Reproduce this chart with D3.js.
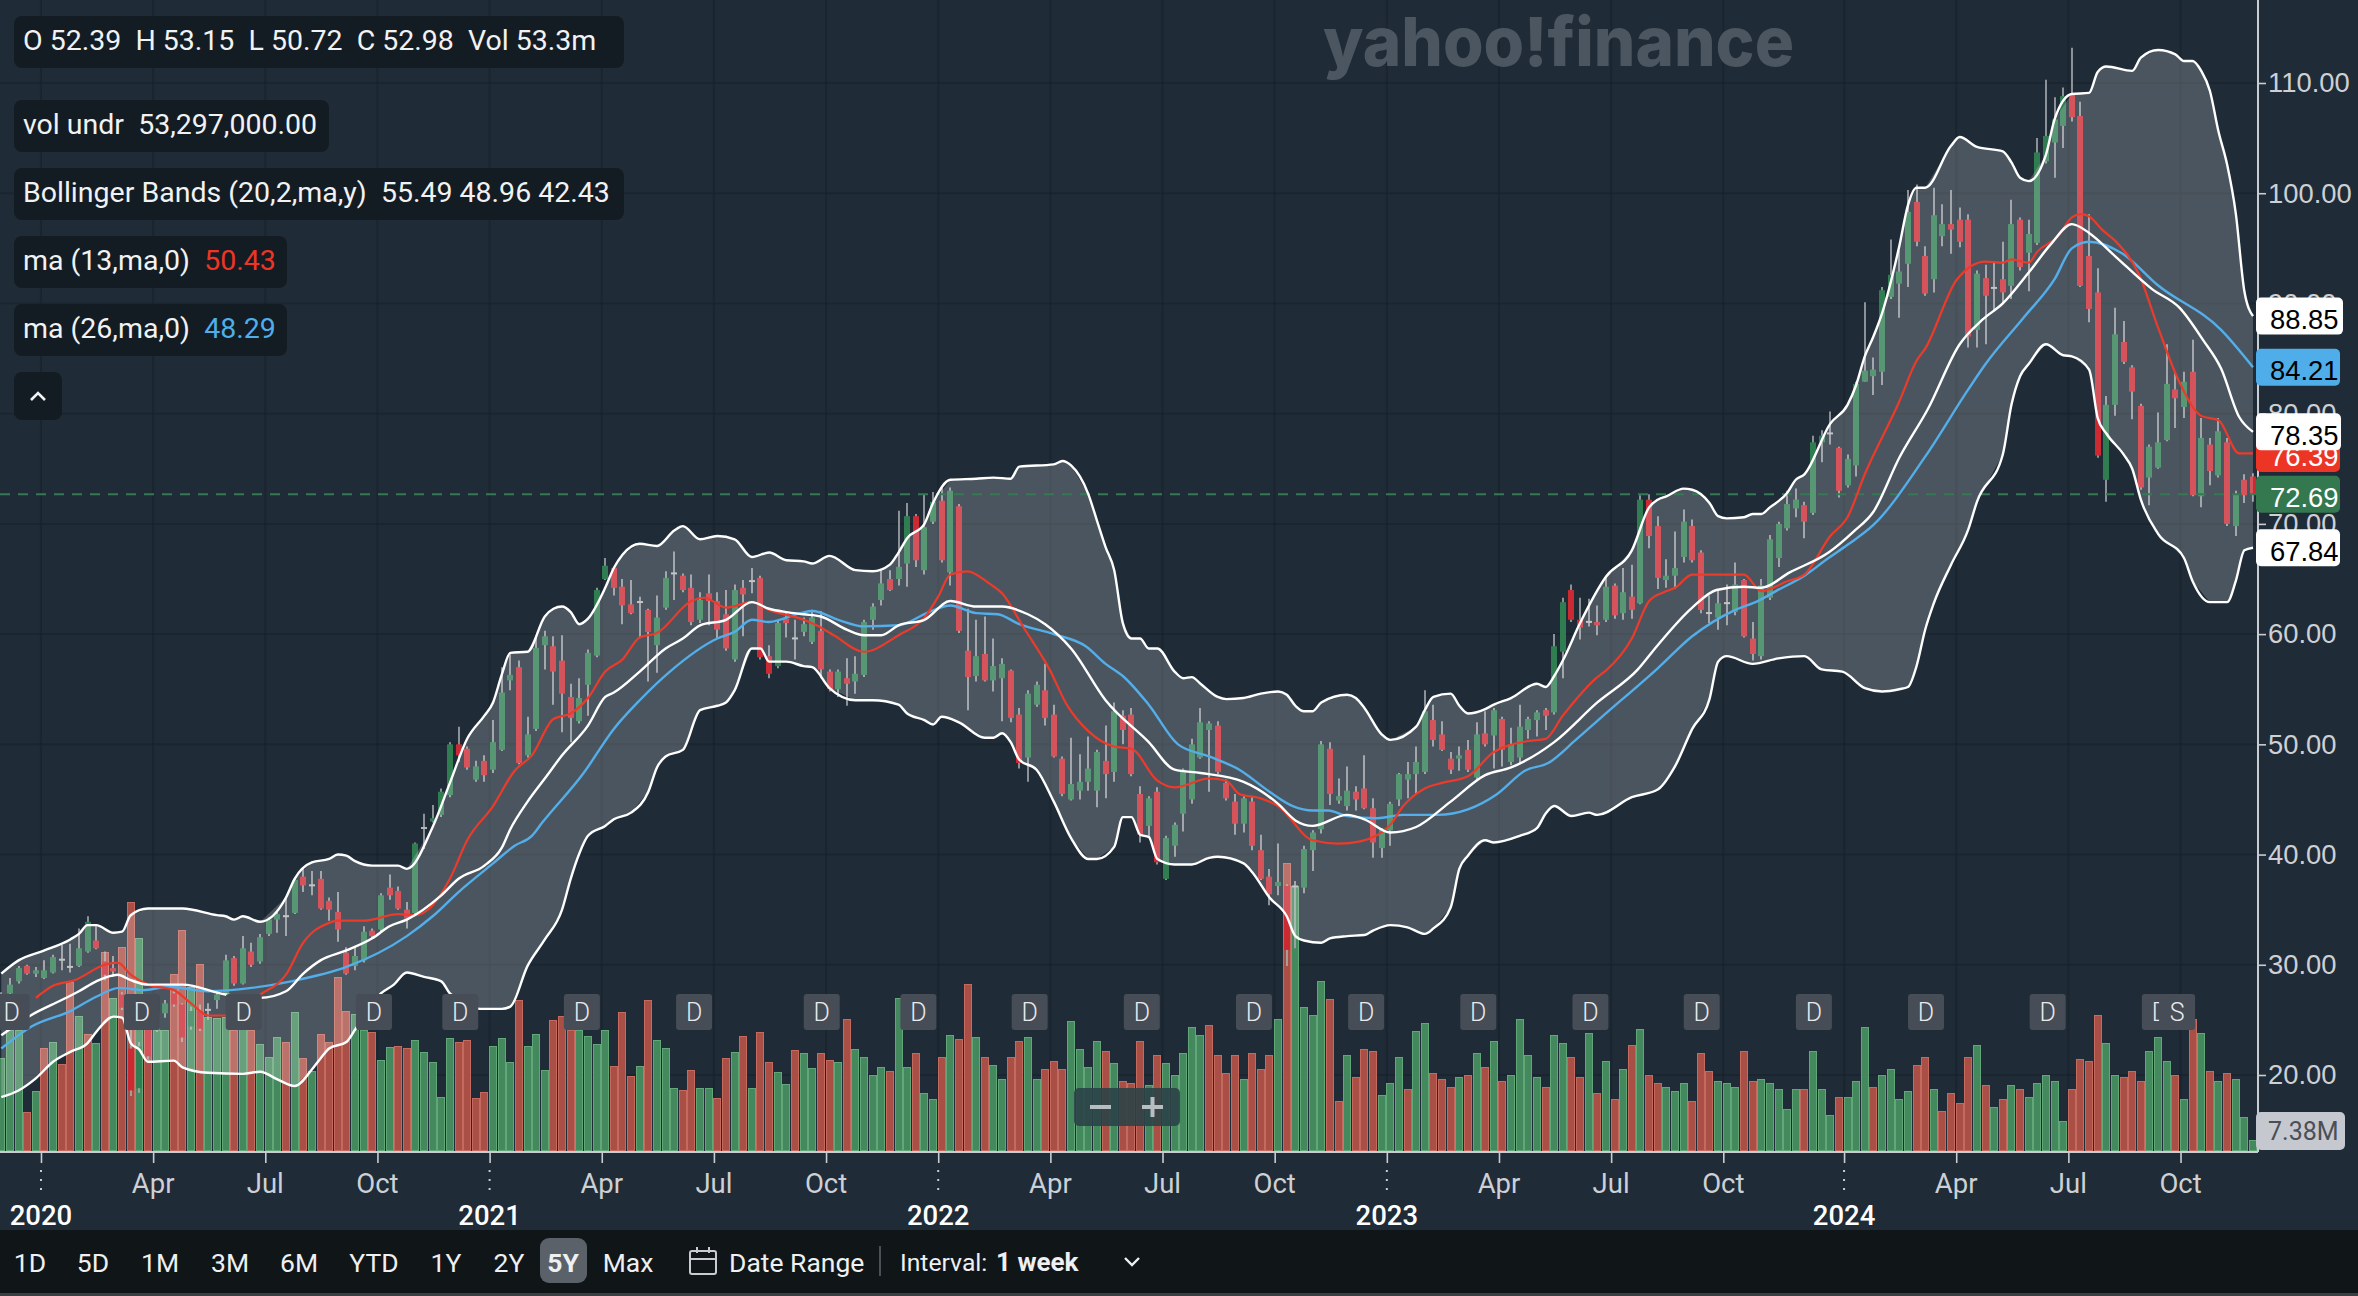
<!DOCTYPE html>
<html>
<head>
<meta charset="utf-8">
<script src="https://cdnjs.cloudflare.com/ajax/libs/d3/7.8.5/d3.min.js"></script>
<style>
  html, body { margin: 0; padding: 0; background: #1f2b37; }
  svg { display: block; }
  text { font-family: Roboto, sans-serif; white-space: pre; }
</style>
</head>
<body>
<div id="chart"></div>
<script>
// weekly candles, 10 per row
const opens = [
  26.6,27.4,28.5,29.9,29.2,28.8,29.3,30.55,29.9,29.9,
  31.2,32.2,30.3,29.7,27.3,22.4,18.8,24.1,24.1,25.6,
  27.4,26.4,24.4,25.8,26,26.8,27.4,30.6,28.3,31.2,
  30.3,32.8,34.1,34.5,34.7,38,37.3,37.8,35.8,34.8,
  31.1,29.9,30.4,33.1,33.2,37,36.7,35,34.7,42.5,
  43,43.6,45.4,50,49.6,46.8,48.5,47.7,49.5,55.8,
  57,49,51.4,59,58.9,57.6,54.3,52.1,55.4,58.05,
  65,66,64.3,62.7,63,62.2,59,62.4,65.6,65.3,
  64.2,61.3,63.7,63,61.8,57.7,64.2,64.9,65.1,58,
  57.1,61.4,59.7,60.2,59.3,60.3,56.6,55,56,55.7,
  56.3,61.3,63.1,65,65,66.4,70.7,65.8,70.2,72.1,
  65.6,71.6,58.5,56.2,58.2,55.8,56,56.7,52.7,48.8,
  53.6,54.9,52.7,48.7,45,45.8,46.6,45.8,48.5,47.5,
  52.6,52.7,45.5,42.6,45.7,37.8,40.8,43.7,45,48.8,
  51.3,51.7,46.5,44.8,42.8,44.8,40.4,38,37.15,37.15,
  37.2,37,40.4,42.3,49.6,44.9,44.4,45.7,46,44.2,
  40.6,42.2,45,46.8,47.3,47.5,52.2,50.9,48.7,48.7,
  49.5,47,51,50.8,52.3,48.4,48.8,51.3,52.2,53.1,
  52.9,58.4,64,61.3,61.2,61.1,61.3,64.4,61.9,63.4,
  62.8,72.2,69.8,64.9,65.3,67,69.8,67.4,62,61.5,
  62.9,62,64.9,59.6,58,63.3,66.9,69.6,71.4,71.7,
  71,77.4,78.3,76.9,73.5,75.3,82.9,83.4,83.8,90.6,
  91.8,93.6,99.2,94.3,92.2,96.1,97.2,97.6,97.6,87.6,
  92.3,91.5,92.2,91.6,97.6,94.6,95.5,102.9,104.6,106.1,
  109,107,94.3,91,74,80.8,86.5,84.2,80.7,74.2,
  75.1,77.6,82.2,80.6,83.8,72.5,77.2,74.4,77.4,69.8,
  74,74.3
];
const highs = [
  27.5,28.8,29.9,30,29.8,30.4,30.9,31.8,31.9,33.3,
  34.4,33.5,31.2,30.8,27.5,24.1,23,24.4,25.9,26.8,
  27.7,26.5,26.2,26.4,26.5,27.7,30.9,30.8,32.6,32,
  32.8,34.3,34.9,36.1,37.9,38.7,38.5,38.5,36.1,36.6,
  31.6,31.7,33.5,33.3,36.5,38.2,37.1,35.7,41.1,43.7,
  44.5,46,50.2,51.6,49.8,48.5,49,52.2,57,58.3,
  57.6,52.5,59.7,60.3,59.8,59.9,55.5,56,58.6,64.2,
  66.9,66.1,65,64.9,63.4,62.3,63.5,65.7,67.5,65.5,
  65.4,63.8,65.4,63.8,64,64.5,64.9,66,65.3,59,
  61.2,62,61.3,61.5,62.2,62.1,56.8,56.8,57.8,58,
  61.3,62.8,65.8,65.8,71.2,71.9,70.9,72.7,72.9,73.3,
  73.3,71.8,62.3,61.3,61.6,59.6,57.8,56.8,53.3,54.9,
  55.7,57.3,53.6,48.9,50.6,49.1,50.7,49.5,51.7,53.8,
  53.1,53.3,46.2,45.3,46.1,41.7,42.9,47.8,50.5,53.3,
  52.1,52.1,46.8,45.5,45.3,45.3,41.8,38.7,41,37.3,
  37.6,40.8,42.2,50.3,50.2,46.9,48,46.2,49,45.1,
  42.4,44.8,47.4,48.4,49.8,54.9,53.6,52.1,49.3,49.8,
  50.4,52,53,53.3,52.5,51.5,53.6,52.5,53.1,53.3,
  60,63.3,64.5,63.3,63.2,62.6,65.2,64.6,66,66.3,
  72.6,72.7,70.7,66.8,69.3,71.3,70.4,67.6,63.5,64.1,
  64.5,66.5,65,61.1,65,69,70.2,73,73.2,72,
  78,78.5,80.2,77,76.3,82.9,90.1,85.1,91.5,95.8,
  94.8,100.3,100.8,95.2,100.5,99,100.3,98.7,98.1,93,
  93.5,93.7,95.6,99.4,97.8,97.6,105,110.3,108.7,109.6,
  113.2,108.3,98.1,93.2,81.6,89.6,88.4,84.4,80.9,77.2,
  80.1,86.3,83.7,83.8,86.7,79.6,77.8,79.6,77.8,73,
  74.5,74.6
];
const lows = [
  26.2,27.2,28.3,29.1,28.9,28.7,29.2,29.5,29.3,29.8,
  31.1,31.4,28.6,28.9,25.9,18.1,18.4,21.4,23.9,25.2,
  26.2,23,24.1,24,25,26,27.2,28.1,28.2,29.8,
  30.1,32.6,32.9,32.6,34.6,36.6,36.3,35,34,32.1,
  29.1,29.5,30.2,32.4,33,35.9,35,33.3,34.5,40.5,
  42.9,43.4,45.2,48.4,47.7,46.6,46.6,47.4,49.4,54.9,
  48.2,48.8,51.2,56.8,53.6,51.1,50.2,51.9,52.6,57.9,
  64.9,63.5,60.9,61.8,59.7,55.7,56.5,62.2,63.1,63.8,
  60.8,61,60.8,59.6,58.5,57.5,59.8,63.7,57.7,56,
  56.9,59.7,57.7,59.8,59.1,56,54.8,54.3,53.5,54.6,
  56.1,60.4,62.6,63.9,64.4,64.3,66.1,65.4,70,66.5,
  64.4,60.1,53.1,55.7,55.7,54.8,52.1,52,47.8,46.6,
  53.4,51.7,48.8,45.3,44.9,45,45.8,44.3,45.1,46.6,
  50,47.1,41.1,41.7,39.1,37.7,39.8,42.1,44.6,48.7,
  45.7,47.3,44.9,41.8,42,40.4,37.7,35.4,36.3,29.9,
  31.5,36.5,38.5,41.9,44.5,44.6,44,44,44.1,39.7,
  39.7,40.8,44.4,45.1,45.5,47.3,49.8,49.4,47.3,47.6,
  47.5,46.8,49.8,47.8,48,48.1,48.3,50.5,50.7,51.3,
  52.7,56,61.1,59.5,60.7,59.9,61.1,61.4,61.3,61.4,
  62.7,67.8,64.1,64.2,64.1,66.5,66.5,61.9,61,60.4,
  60.8,61.7,59.7,57.6,57.7,63.1,66.1,69.4,70.6,68.7,
  70.8,75.6,77.2,72.4,73.3,74.3,82.9,81.7,82.6,90.4,
  88.7,91.5,95.2,90.7,91,95.2,94.5,95.1,86,86,
  86.3,89.3,90,90.4,93,91.1,95.3,102.7,101.4,104.1,
  106.5,91.5,88.3,76,72,79.8,84.5,79.5,73.1,71.7,
  75,77.5,78.7,79.6,72.5,71.5,73.5,74.2,69.8,68.9,
  71.9,72
];
const closes = [
  27,28.2,29.7,29.2,29.5,29.5,30.7,30.55,29.9,31.5,
  33.9,31.5,29.1,29.4,26.1,18.6,22.6,21.7,25.6,26.5,
  26.4,23.4,25.8,24.2,26,27.3,30.4,28.3,31.5,30,
  32.5,34.1,34.6,34.5,37.7,37.2,37.3,35.1,35,33.2,
  29.2,30.8,33,32.6,36.3,36.3,35.1,34.2,41,42.5,
  43.3,45.7,50,49,47.9,48,47.2,50.2,54.7,56.3,
  48.3,50.9,58.75,59.8,56.6,54.6,52.4,54.2,58.3,64,
  66.2,64.2,62.6,61.9,63,60.2,61.5,65.1,65.6,64,
  61.1,63.1,63,60.4,58.7,64,63.6,64.9,57.9,56.4,
  61,61,59.7,60.9,61.5,56.8,55,56.6,55.5,56.4,
  61.1,62.5,64.6,64,66.1,70.7,66.7,69.7,72,66.7,
  73,60.3,56.1,58,55.8,57.1,57.3,52.4,48.3,54.6,
  55.4,52.4,48.9,45.5,46.4,46.6,47.8,49.3,47.3,53,
  51.3,47.3,41.8,45.1,39.3,41.5,42.7,47.7,50,52,
  51.9,47.5,45.1,42.8,45.1,40.8,37.8,36.4,37.5,31.35,
  37.2,40.5,42,50,45.5,45.3,45.8,45,44.2,41.1,
  42.2,44.6,47.3,47.3,48.4,53,50.4,49.5,47.7,49,
  47.7,50.9,50,53.1,49.5,50,51.6,52.3,52.9,52.6,
  58.9,62.9,61.3,60.6,61.2,60.8,64.3,61.7,63.8,62.2,
  72.2,68.9,65.1,65.3,66,70.2,66.7,62.2,62,62.8,
  62.9,64.5,59.8,58.2,64.4,68.6,70,71.8,72.2,70.2,
  77.4,78,78.3,73,75.9,82.7,83.9,84,91.2,92.6,
  92.9,98.3,95.6,90.9,98,97.2,96.7,95.6,87,92.7,
  90.7,91.5,91,97.2,93.3,96.3,103.7,105.2,106.7,108.8,
  106.9,91.6,89.5,76.2,80.8,87.2,84.7,82,73.3,77,
  77.4,82.7,81.4,82.9,72.6,77.8,74.8,78.4,70,72.7,
  72.6,72.69
];

// volume in millions, 10 per row
const volumes = [
  67.7,88.6,88.6,27.8,43.8,75,79.5,63.2,124.2,98.9,
  85.4,78.7,145.9,111.9,150,182.8,156.2,88.6,88.6,88.6,
  129.6,162.1,120.5,137,98.4,97.2,98.4,88.6,91,88.6,
  78,68.9,83.6,79.5,101.6,67.7,58.3,85.4,79.5,127.9,
  102.8,100.1,88.6,86.8,66.2,76.3,76.8,75,80.9,72.1,
  64.7,39.4,82.4,79.5,80.9,38.1,42.6,76.5,82.4,64.7,
  110.5,76.5,85.4,58.8,95.7,98.6,88.6,88.6,83.9,78,
  88.3,61.7,101.6,54.4,61.7,110.5,80.9,75,45.5,44,
  58.8,45.5,45.5,38.1,67.7,72.1,83.9,45.5,86.8,64.7,
  57.3,48.5,73.6,71.8,60.3,71.8,66.2,64.7,96.9,74.8,
  68.9,55.6,61.5,58.5,111.9,61.5,71.8,42.3,37.9,68.9,
  85.1,82.2,122.3,83.6,68.9,63,52.6,68.9,80.7,83.6,
  52.6,60,65.9,60,95.4,74.8,61.5,80.7,73.3,64.5,
  51.2,49.7,80.7,48.2,70.4,64.5,55.6,71.8,91,85.1,
  92.5,70.4,57.1,70.4,52.6,71.8,60,70.4,96.9,211.8,
  194.8,105.8,99.9,125,111.7,36.4,70.4,54.1,74.8,73.3,
  40.8,49.7,68.9,45.3,88.1,94,57.1,52.6,46.7,54.1,
  55.6,71.8,61.5,80.7,51.2,55.6,96.9,70.4,54.1,46.7,
  85.1,79.2,68.9,54.1,86.6,42.3,65.9,37.9,60,77.7,
  89.5,55.6,49.7,46.7,43.8,49.7,36.4,71.8,58.5,51.2,
  49.7,46.7,73.3,51.2,52.6,49.7,45.3,30.5,45.3,45.3,
  73.3,45.3,26.1,39.4,39.4,51.2,91,46.7,55.6,60,
  37.9,43.8,63,68.9,45.3,29,42.3,34.9,68.9,77.7,
  48.2,32,37.9,48.2,45.3,39.4,49.7,55.6,51.2,21.6,
  45.3,67.4,65.9,99.9,79.2,55.6,54.1,58.5,51.2,73.3,
  83.6,65.9,55.6,37.9,96.9,86.6,58.5,51.2,57.1,52.6,
  24.6,7.38
];
const volumeSides = (
  "GGGRGRGRRG" + "RGRGRRGRGG" + "RRGRGGGRGR" + "GGGRGRGRRR" + "RGGRGGRRGG" +
  "GGGRRRRGGG" + "RGGGRRRGGG" + "GRRRGRGGGR" + "RGGRRGRGRR" + "GGRGGRRGRG" +
  "GGGRGGRGGR" + "GRRGRGGRRG" + "GRRRGGGGRG" + "RRRGRGGGGG" + "RRRRGRRRGR" +
  "GGGGRRGRRR" + "GGGRGGRRRG" + "RGRGRGGGGR" + "GGRRGRGRGR" + "GRRGGGRRRG" +
  "GGRRGGGGGR" + "GGGRGGGRGG" + "GGRRGRRRRG" + "RGRGRGGGGG" + "RRRRGGRRRG" +
  "GGRGRGRGRG" + "GG"
).split("");

// moving averages and bollinger bands as [week, value]
const bbUpper = [[0,29.2],[2,30.4],[5,31.3],[8,32.3],[9,32.8],[10,33.6],[11,33.6],[13,32.9],[14,33],[15,34.5],[17,35.1],[21,35.1],[25,34.5],[26,34.4],[27,34.1],[28,34.4],[30,33.9],[33,36.1],[34,37.8],[36,39.3],[38,39.6],[39,40],[40,39.9],[41,39.4],[43,39],[46,39],[47,38.7],[50,42.5],[52,46.5],[54,50.5],[56,52.6],[57,53.8],[58,56.3],[59,58.3],[61,58.4],[63,61.6],[64,62.3],[65,62.5],[66,62],[67,60.9],[68,61.4],[70,64.2],[71,66],[72,67.2],[74,68.2],[76,68],[78,69.4],[79,69.8],[81,68.6],[83,68.9],[85,68.6],[87,67],[89,67.4],[91,66.7],[93,66.6],[94,66.4],[96,67.1],[99,65.8],[101,65.7],[103,66.3],[104,67.4],[105,68.7],[107,70],[108,71.9],[110,74],[113,74.1],[115,74.2],[117,74.1],[118,75.2],[122,75.4],[123,75.7],[124,75.3],[126,72.7],[127,70.3],[128,67.9],[129,65.8],[130,61],[131,59.6],[132,59.6],[133,58.7],[134,58.7],[136,56.6],[137,56],[138,56.1],[139,55.5],[141,54.3],[142,54.1],[144,54.2],[146,54.6],[148,54.8],[149,54.5],[150,53.5],[151,53],[152,53],[153,53.8],[156,54.5],[157,54.2],[158,53.3],[160,50.9],[161,50.4],[164,51.6],[165,53.1],[166,54.3],[168,54.6],[169,53.5],[170,52.8],[172,53.2],[173,53.6],[175,54.2],[178,55.5],[179,55.2],[180,56.2],[181,57.6],[183,61],[186,65.2],[189,67.6],[191,71.5],[192,72.2],[193,72.5],[195,73.2],[196,73.1],[198,71.9],[199,70.7],[200,70.5],[202,70.6],[203,70.9],[204,70.9],[205,71.5],[207,72.8],[208,74],[209,74.5],[212,79.1],[214,80.8],[215,82.6],[216,85.2],[217,87],[218,89.1],[220,95.2],[221,98.9],[222,100.5],[223,100.5],[226,104.3],[227,105.1],[229,104.2],[232,103.8],[233,102.8],[234,101.4],[235,101.1],[237,103.5],[238,106.7],[240,109],[242,109.1],[243,111],[244,111.5],[247,111.1],[248,112.3],[250,113],[252,112.6],[253,112],[254,112],[255,111.1],[256,109.3],[257,105.6],[258,102.6],[259,98.2],[260,91.1],[261,88.85]];
const bbLower = [[0,18],[2,18.6],[4,19.7],[6,21.2],[8,22.1],[10,22.9],[11,23.9],[13,25.3],[14,25.2],[15,22.9],[16,22.3],[17,21.2],[20,21.3],[21,20.7],[24,20.2],[28,20.1],[30,20.3],[32,19.6],[34,19],[36,20.5],[37,21.5],[38,22.4],[40,23],[41,24.1],[44,27.4],[45.5,28.2],[47,29.3],[49,28.9],[51,28.5],[52,27.4],[55.5,26],[58,26],[59,26.2],[61,29.9],[63,32.3],[65,35],[66,37.8],[67,40.1],[68,41.7],[70,42.6],[71,43.2],[73,43.8],[75,45.7],[76,47.9],[77,48.9],[79,49.5],[81,53.1],[83,53.5],[84,53.8],[85,54.9],[87,58.7],[88,58.7],[89,57.5],[91,57.5],[93,57.1],[94,57],[96,55.1],[99,54],[101,54],[104,53.6],[105,52.8],[107,52.2],[108,51.8],[109,52.5],[111,52],[114,50.6],[115,50.6],[116,51],[117,50.2],[118,48.6],[120,47.7],[122,44.8],[124,41.5],[126,39.6],[127,39.6],[129,40.7],[130,43.4],[131,43.4],[132,41.8],[133,41.6],[134,39.6],[136,39.1],[138,39.1],[140,39.7],[141,39.8],[144,39.2],[145,38.4],[147,36.1],[149,34.4],[150,32.6],[151,32.2],[153,32],[154,32.4],[156,32.6],[158,32.7],[159,33.1],[161,33.6],[163,33.4],[165,32.8],[166,33.3],[168,35.2],[169,38.7],[170,39.9],[172,41.3],[173,41.1],[176,41.7],[178,42.4],[179,43.7],[180,44.4],[182,43.5],[184,43.8],[185,43.6],[189,45.2],[192,45.9],[194,48],[196,51.4],[198,54.1],[199,57.5],[200,58],[203,57.3],[206,57.8],[209,58],[211,56.8],[213.4,56.6],[216,55.1],[218,54.8],[220,55],[221,55.2],[222,57.1],[223,60.4],[224,62.8],[226,66.3],[228,69.5],[229,72],[232,76.3],[233,80.8],[234,83.4],[235,84.5],[237,86.3],[239,85.3],[240,85.2],[242,84],[243,79.6],[244,78.2],[246,76.3],[247,75],[248,72.2],[250,69.1],[253,66.9],[254,64.8],[256,62.9],[258,62.9],[259,64.8],[260,67.6],[261,67.84]];
const bbMiddle = [[0,23.6],[3.4,25.4],[7,26.8],[9,27.6],[11,28.5],[13.5,29.1],[15,28.6],[17,28.2],[21,28.2],[26,27.3],[30,27],[33,27.6],[35,29.2],[37,30.4],[40,31.3],[43,32.4],[45,33.5],[47,34.1],[51,36.3],[53,37.8],[56,39],[58,40.6],[59,42.3],[61,44.8],[63,46.9],[65,49],[68,51.7],[70,54.3],[71,54.7],[74,56.6],[77,58.7],[79,59.6],[81,60.8],[84,61.3],[87,62.9],[89,62.3],[91,62],[93,61.8],[95,61.6],[98,60.4],[100,59.9],[102,59.9],[104,60.8],[107,61.3],[110,63],[113,62.5],[116,62.5],[119,61.8],[121,60.9],[124,58.7],[128,54],[133,50.2],[136,47.7],[139,47.4],[144,46.6],[148,44.6],[150,43.1],[152,42.6],[156,43.6],[158,43.2],[161,42],[164,42.5],[168,44.8],[172,47.2],[175,47.9],[180,50.2],[185,53.8],[189.7,56.8],[191.9,58.9],[196,62.4],[198.8,64],[202,64.3],[204,64.2],[207.3,65.6],[211.8,67.4],[214.7,69.3],[217,71.1],[220,76],[223.3,80.4],[227,86.3],[229.6,88.5],[232,90],[235,92.8],[237.6,95.4],[240,97.2],[242,96.4],[245,94.3],[249.3,91.3],[252.5,89.6],[255.2,86.7],[257.3,84.1],[259.4,79.7],[261,78.35]];
const ma13 = [[4,27],[6,28.1],[8.5,28.6],[12,30],[13.5,30.2],[15,29.1],[17,28.2],[20,27.7],[22,26.5],[24,25.4],[26,25.4],[30,27.3],[33,29.1],[35,32],[38,33.8],[39,34],[42,34],[46,34.6],[48,34.5],[50,35.4],[52,37.8],[54,41.3],[57,44.4],[59.5,47.6],[61.5,49],[64,52.3],[66,52.8],[68,54.2],[70,56.6],[72,57.7],[74,59.7],[76,60.1],[80,63],[81.5,63.3],[84,62.4],[87,62.9],[89,62.2],[93,61.3],[94.5,60.8],[96.5,59.9],[100,58.4],[104,59.9],[107,61.5],[108.6,63.4],[110,65.4],[112,65.7],[114.5,64.6],[116,63.7],[118.5,60.6],[121.5,56.8],[123.5,53.6],[126,51.2],[129,49.8],[131,49.6],[134,46.7],[136,46.1],[140,46.9],[142,46.7],[143.5,45.5],[146,45.1],[148,44.4],[152,41.3],[155,41],[157.5,41.2],[161,42.7],[162.5,44.4],[165,46],[167,46.5],[170,47.1],[173,49.3],[177,50.3],[179,50.5],[181,52.6],[185,56.1],[186,56.7],[189,59.6],[191,63],[192.7,63.8],[194,64.2],[196,65.4],[199,65.4],[202,65.4],[204,63.9],[207,64.8],[209,65.4],[212,68.9],[214,70.6],[216,74.5],[220,81.1],[222,84.8],[223,85.9],[226.7,92.2],[230,93.8],[232,93.7],[233,94],[235,93.7],[236,94.7],[238.4,96.1],[240,97.8],[241,98.1],[242,97.9],[243.5,96.7],[245,95.7],[247.8,92.6],[250,87.8],[252.5,82.8],[255,79.8],[257,79.4],[259.4,76.4],[261,76.39]];
const ma26 = [[0,22.4],[3.5,24.4],[8,25.8],[11,27.1],[13.7,27.9],[16.4,27.7],[19.4,28],[24,27.6],[29,27.9],[33.6,28.5],[40,29.8],[47,32.6],[50,34.4],[53,36.6],[57,39.2],[59.5,40.8],[61.5,41.7],[62.7,42.9],[67.5,47.4],[71,51.4],[74,54],[77.5,56.6],[83,59.6],[85,60.2],[87,61.3],[89,61.1],[92.6,61.9],[94,62.1],[97,61.3],[100,60.7],[104,60.8],[107.5,62],[110,62.6],[113,61.9],[115.5,61.8],[118,60.9],[122,60],[125.7,58.9],[128,57.3],[130,56.2],[133,53.6],[136.4,50],[140,48.9],[143.5,47.7],[147,45.7],[149.7,44.4],[152,44],[153.8,44],[156,43.5],[159.5,43.3],[162.4,43.6],[166.5,43.6],[170,44.1],[173.4,45.5],[176.6,47.6],[179.3,48.3],[182.5,50.4],[185.4,52.4],[192,56.9],[196,59.8],[201,62.2],[203.6,63],[205.7,63.9],[209,65.3],[211.8,66.9],[214,68.1],[217,69.9],[223,76.1],[228,82.2],[230,84.5],[234.4,88.7],[238,92.2],[240,95],[242,95.6],[245.9,94.5],[249.9,91.7],[257.3,87.6],[261,84.21]];

// dividend and split markers, week of each
const dividendWeeks = [1.2,16.3,28.1,43.2,53.2,67.3,80.3,95.1,106.3,119.2,132.2,145.2,158.2,171.2,184.2,197.1,210.1,223.1,237.2,250.2];
const splitWeeks = [252.2];

const priceTicks = [20,30,40,50,60,70,80,90,100,110];
// the time axis snaps its ticks to the weekly bars
const monthTickWeeks = [17.6,30.6,43.6,69.6,82.6,95.6,121.6,134.6,147.6,173.6,186.6,199.6,226.6,239.6,252.6];
const monthTickLabels = ["Apr","Jul","Oct","Apr","Jul","Oct","Apr","Jul","Oct","Apr","Jul","Oct","Apr","Jul","Oct"];
const yearTickWeeks = [4.6,56.6,108.6,160.6,213.6];
const yearTickLabels = ["2020","2021","2022","2023","2024"];
const rangeLabels = ["1D","5D","1M","3M","6M","YTD","1Y","2Y","5Y","Max"];

const W = 2358, H = 1296;
const plotRight = 2258, axisY = 1152, volBase = 1150;

const svg = d3.select("#chart").append("svg").attr("width", W).attr("height", H);
svg.append("rect").attr("width", W).attr("height", H).attr("fill", "#1f2b37");

const firstBar = Date.UTC(2019, 10, 30);
const DAY = 86400000;
const weekDate = i => new Date(firstBar + i * 7 * DAY);

// scales
const x = d3.scaleUtc().domain([weekDate(0), weekDate(261)]).range([1.3, 2253]);
const y = d3.scaleLinear().domain([20, 110]).range([1075, 83]);
const yVol = d3.scaleLinear().domain([0, 211.8]).range([volBase, 863]);

const monthDates = monthTickWeeks.map(weekDate);
const yearDates = yearTickWeeks.map(weekDate);

// grid
const grid = svg.append("g").attr("stroke", "#17202a").attr("stroke-opacity", 0.55).attr("stroke-width", 2);
grid.selectAll(".h").data(priceTicks).enter().append("line")
  .attr("x1", 0).attr("x2", plotRight).attr("y1", d => y(d)).attr("y2", d => y(d));
grid.selectAll(".v").data(monthDates.concat(yearDates)).enter().append("line")
  .attr("x1", d => x(d)).attr("x2", d => x(d)).attr("y1", 0).attr("y2", axisY);

// volume bars
const greenVol = "#43895d", redVol = "#a94f45";
const bars = svg.append("g").attr("shape-rendering", "crispEdges");
bars.selectAll("rect").data(volumes).enter().append("rect")
  .attr("x", (d, i) => Math.round(x(weekDate(i))) - 3.5)
  .attr("width", 7)
  .attr("y", d => Math.round(yVol(d)) + 0.5)
  .attr("height", d => Math.max(1, volBase - Math.round(yVol(d)) - 0.5))
  .attr("fill", (d, i) => volumeSides[i] === "G" ? greenVol : redVol)
  .attr("stroke", (d, i) => volumeSides[i] === "G" ? "#62a777" : "#c56a5e")
  .attr("stroke-width", 1);

// candles
const candleGroup = svg.append("g");
const candleData = opens.map((o, i) => ({ i: i, o: o, h: highs[i], l: lows[i], c: closes[i] }));
const upCol = "#2f7d50", downCol = "#cb2a32", dojiCol = "#b4b8bc";
const candleX = d => Math.round(x(weekDate(d.i)));
candleGroup.selectAll("line").data(candleData).enter().append("line")
  .attr("x1", candleX).attr("x2", candleX)
  .attr("y1", d => y(d.h)).attr("y2", d => y(d.l))
  .attr("stroke", "#a9adb1").attr("stroke-width", 1.6);
candleGroup.selectAll("rect").data(candleData).enter().append("rect")
  .attr("x", d => candleX(d) - 3)
  .attr("width", 6)
  .attr("y", d => y(Math.max(d.o, d.c)))
  .attr("height", d => Math.max(2, Math.abs(y(d.o) - y(d.c))))
  .attr("fill", d => d.o === d.c ? dojiCol : (d.c > d.o ? upCol : downCol));

// bollinger fill goes over the candles and the volume
const line = d3.line().x(d => x(weekDate(d[0]))).y(d => y(d[1]));
svg.append("path")
  .attr("d", line(bbUpper.concat(bbLower.slice().reverse())) + "Z")
  .attr("fill", "#fff").attr("fill-opacity", 0.2);

// current price line
svg.append("line").attr("x1", 0).attr("x2", plotRight)
  .attr("y1", y(72.69)).attr("y2", y(72.69))
  .attr("stroke", "#357a52").attr("stroke-width", 2).attr("stroke-dasharray", "10,8");

function drawLine(pts, color, w) {
  svg.append("path").attr("d", line.curve(d3.curveMonotoneX)(pts))
    .attr("fill", "none").attr("stroke", color).attr("stroke-width", w)
    .attr("stroke-linejoin", "round");
}
drawLine(ma26, "#53aee9", 2.4);
drawLine(ma13, "#ec3b2a", 2.2);
drawLine(bbMiddle, "#fff", 2.4);
drawLine(bbUpper, "#fff", 2.4);
drawLine(bbLower, "#fff", 2.4);

// dividend / split markers
function markers(weeks, label, w) {
  const g = svg.selectAll(".m" + label).data(weeks).enter().append("g")
    .attr("transform", d => "translate(" + x(weekDate(d)) + ",1012)");
  g.append("rect").attr("x", -w / 2).attr("y", -18).attr("width", w).attr("height", 36)
    .attr("rx", 3).attr("fill", "#464d56");
  g.append("text").attr("text-anchor", "middle").attr("dy", "0.36em")
    .attr("font-size", 25).attr("font-weight", 300).attr("fill", "#e8eaec").text(label);
}
markers(dividendWeeks, "D", 36);
markers(splitWeeks, "S", 36);

// axes
const xAxis = d3.axisBottom(x).tickValues(monthDates.concat(yearDates)).tickSize(11).tickFormat("");
const xg = svg.append("g").attr("transform", "translate(0," + axisY + ")").call(xAxis);
xg.select(".domain").remove();
xg.selectAll("line").attr("stroke", "#c9ccd1").attr("stroke-width", 1.6);
svg.append("line").attr("x1", 0).attr("x2", plotRight).attr("y1", axisY).attr("y2", axisY)
  .attr("stroke", "#c9ccd1").attr("stroke-width", 2);

svg.selectAll(".dots").data(yearDates).enter().append("line")
  .attr("x1", d => x(d)).attr("x2", d => x(d)).attr("y1", 1170).attr("y2", 1194)
  .attr("stroke", "#c9ccd1").attr("stroke-width", 2).attr("stroke-dasharray", "2,7");

svg.selectAll(".mon").data(monthDates).enter().append("text")
  .attr("x", d => x(d)).attr("y", 1193).attr("text-anchor", "middle")
  .attr("font-size", 27.5).attr("fill", "#cdd0d4")
  .text((d, i) => monthTickLabels[i]);
svg.selectAll(".yr").data(yearDates).enter().append("text")
  .attr("x", d => x(d)).attr("y", 1225).attr("text-anchor", "middle")
  .attr("font-size", 27.5).attr("font-weight", 500).attr("fill", "#fff")
  .text((d, i) => yearTickLabels[i]);

const yAxis = d3.axisRight(y).tickValues(priceTicks).tickSize(8).tickPadding(2).tickFormat(d3.format(".2f"));
const yg = svg.append("g").attr("transform", "translate(" + plotRight + ",0)").call(yAxis);
yg.select(".domain").remove();
yg.selectAll("line").attr("stroke", "#c9ccd1").attr("stroke-width", 1.6);
yg.selectAll("text").attr("font-size", 27.4).attr("fill", "#cdd0d4")
  .style("font-family", "'Liberation Sans', sans-serif");
svg.append("line").attr("x1", plotRight).attr("x2", plotRight).attr("y1", 0).attr("y2", axisY)
  .attr("stroke", "#c9ccd1").attr("stroke-width", 2);

// price badges, later ones sit on top
const badgeValues = [76.39, 72.69, 84.21, 88.85, 78.35, 67.84];
const badgeFill = ["#ec3524", "#33784f", "#4faeea", "#fff", "#fff", "#fff"];
const badgeText = ["#fff", "#fff", "#000", "#000", "#000", "#000"];
const badgeW = [84, 84, 84, 87, 85, 84];
badgeValues.forEach((v, i) => {
  svg.append("rect").attr("x", 2256).attr("y", y(v) - 18.5).attr("width", badgeW[i]).attr("height", 37)
    .attr("rx", 5).attr("fill", badgeFill[i]);
  svg.append("text").attr("x", 2270).attr("y", y(v) + 3).attr("dy", "0.36em")
    .attr("font-size", 27.4).attr("fill", badgeText[i])
    .style("font-family", "'Liberation Sans', sans-serif").text(d3.format(".2f")(v));
});
svg.append("rect").attr("x", 2256).attr("y", 1112).attr("width", 89).attr("height", 38)
  .attr("rx", 5).attr("fill", "#c5c8ce");
svg.append("text").attr("x", 2268).attr("y", 1131).attr("dy", "0.36em")
  .attr("font-size", 25).attr("fill", "#4a4f56").text("7.38M");

// watermark
svg.append("text").attr("x", 1323).attr("y", 66)
  .attr("font-size", 68).attr("font-weight", 800).attr("fill", "#4b5660")
  .attr("textLength", 471).attr("lengthAdjust", "spacingAndGlyphs")
  .style("font-family", "Inter, sans-serif").text("yahoo!finance");

// legend boxes
function hud(yTop, w, parts) {
  svg.append("rect").attr("x", 14).attr("y", yTop).attr("width", w).attr("height", 52)
    .attr("rx", 8).attr("fill", "#141c23");
  const t = svg.append("text").attr("x", 23).attr("y", yTop + 24).attr("dy", "0.36em")
    .attr("font-size", 28.5).attr("fill", "#f1f2f3");
  parts.forEach(p => {
    const s = t.append("tspan").text(p[0]);
    if (p[1]) s.attr("fill", p[1]);
  });
}
hud(16, 610, [["O 52.39  H 53.15  L 50.72  C 52.98  Vol 53.3m"]]);
hud(100, 315, [["vol undr  53,297,000.00"]]);
hud(168, 610, [["Bollinger Bands (20,2,ma,y)  55.49 48.96 42.43"]]);
hud(236, 273, [["ma (13,ma,0)  "], ["50.43", "#ee3524"]]);
hud(304, 273, [["ma (26,ma,0)  "], ["48.29", "#4faeea"]]);
svg.append("rect").attr("x", 14).attr("y", 372).attr("width", 48).attr("height", 48)
  .attr("rx", 8).attr("fill", "#141c23");
svg.append("path").attr("d", "M31,400 L38,393 L45,400").attr("fill", "none")
  .attr("stroke", "#f1f2f3").attr("stroke-width", 2.6);

// zoom control
svg.append("rect").attr("x", 1074).attr("y", 1088).attr("width", 106).attr("height", 38)
  .attr("rx", 5).attr("fill", "#2c4347").attr("fill-opacity", 0.9);
svg.append("path").attr("d", "M1090,1107 H1111 M1142,1107 H1163 M1152.5,1097 V1117")
  .attr("stroke", "#b9bdc1").attr("stroke-width", 4).attr("fill", "none");

// bottom toolbar
svg.append("rect").attr("x", 0).attr("y", 1230).attr("width", W).attr("height", 66).attr("fill", "#101518");
svg.append("rect").attr("x", 0).attr("y", 1293).attr("width", W).attr("height", 3).attr("fill", "#3c3f42");
svg.append("rect").attr("x", 540).attr("y", 1238).attr("width", 47).attr("height", 45)
  .attr("rx", 9).attr("fill", "#5b6169");
const rangeX = [30, 93, 160, 230, 299, 374, 446, 509, 563, 628];
svg.selectAll(".rng").data(rangeLabels).enter().append("text")
  .attr("x", (d, i) => rangeX[i]).attr("y", 1262).attr("dy", "0.36em").attr("text-anchor", "middle")
  .attr("font-size", 26.5).attr("font-weight", d => d === "5Y" ? 700 : 400).attr("fill", "#eef0f1").text(d => d);

const cal = svg.append("g").attr("fill", "none").attr("stroke", "#c9ccd1").attr("stroke-width", 2);
cal.append("rect").attr("x", 690).attr("y", 1251).attr("width", 26).attr("height", 23).attr("rx", 2);
cal.append("path").attr("d", "M690,1259 H716 M697,1247 V1253 M709,1247 V1253");

svg.append("text").attr("x", 729).attr("y", 1262).attr("dy", "0.36em").attr("font-size", 26.5)
  .attr("fill", "#eef0f1").text("Date Range");
svg.append("line").attr("x1", 880).attr("x2", 880).attr("y1", 1246).attr("y2", 1276)
  .attr("stroke", "#4b5056").attr("stroke-width", 2);
svg.append("text").attr("x", 900).attr("y", 1262).attr("dy", "0.36em").attr("font-size", 24.7)
  .attr("fill", "#eef0f1").text("Interval:");
svg.append("text").attr("x", 996).attr("y", 1262).attr("dy", "0.36em").attr("font-size", 26)
  .attr("font-weight", 700).attr("fill", "#eef0f1").text("1 week");
svg.append("path").attr("d", "M1125,1258 L1132,1265 L1139,1258").attr("fill", "none")
  .attr("stroke", "#eef0f1").attr("stroke-width", 2.4);
</script>
</body>
</html>
